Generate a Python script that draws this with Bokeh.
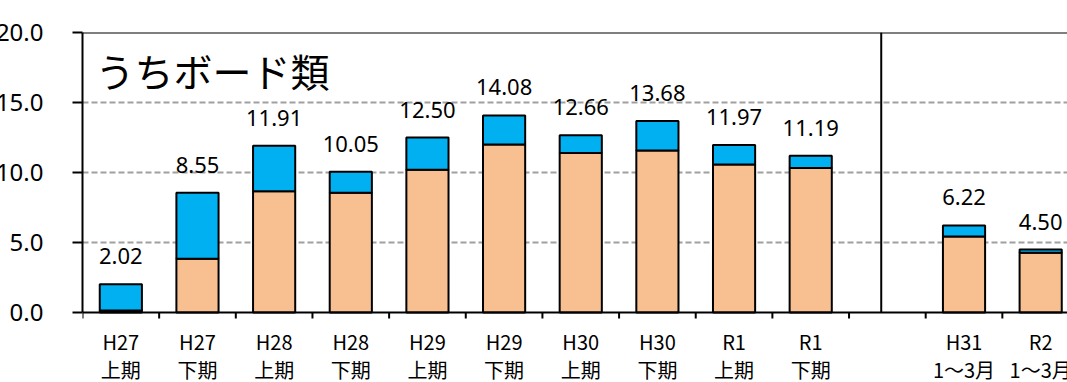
from bokeh.plotting import figure
from bokeh.models import FixedTicker, LinearAxis, Span, Label, Range1d, Grid
from bokeh.embed import file_html
from bokeh.resources import INLINE
from bokeh.core.properties import value

# ---- data ----
period_year = ["H27", "H27", "H28", "H28", "H29", "H29", "H30", "H30", "R1", "R1", "H31", "R2"]
period_half = ["上期", "下期", "上期", "下期", "上期", "下期", "上期", "下期", "上期", "下期", "1～3月", "1～3月"]
slot_index = [0, 1, 2, 3, 4, 5, 6, 7, 8, 9, 11, 12]
lower_part = [0.15, 3.84, 8.66, 8.55, 10.20, 12.00, 11.40, 11.57, 10.57, 10.33, 5.43, 4.26]
totals = [2.02, 8.55, 11.91, 10.05, 12.50, 14.08, 12.66, 13.68, 11.97, 11.19, 6.22, 4.50]
y_ticks = [0, 5, 10, 15, 20]
title_text = "うちボード類"

# ---- layout constants ----
n_slots = 13
divider_pos = 10.42
x_end = 12.85
y_min, y_max = -5, 20          # space below zero holds the category labels
px_per_unit = 14.0             # 280 px frame part for 0..20
tick_len = 6 / px_per_unit
PEACH = "#F8C090"
BLUE = "#00B0F0"

x = [s + 0.5 for s in slot_index]
boundaries = list(range(0, n_slots))

p = figure(width=1075, height=382, output_backend="svg", toolbar_location=None,
           x_range=Range1d(0, x_end), y_range=Range1d(y_min, y_max),
           x_axis_location=None, y_axis_location=None,
           min_border_left=90, min_border_right=0, min_border_top=32, min_border_bottom=0,
           background_fill_color="white", border_fill_color="white",
           margin=(0, 0, 0, -8))
p.outline_line_color = None
p.center = [r for r in p.center if not isinstance(r, Grid)]

# grid
grid = Grid(dimension=1, ticker=FixedTicker(ticks=y_ticks[1:-1]),
            grid_line_color="#A0A0A0", grid_line_width=2, grid_line_dash="6 3")
p.add_layout(grid)

# bars
p.vbar(x=x, bottom=0, top=lower_part, width=0.55, fill_color=PEACH,
       line_color="black", line_width=2)
p.vbar(x=x, bottom=lower_part, top=totals, width=0.55, fill_color=BLUE,
       line_color="black", line_width=2)

# value labels
p.text(x=x, y=totals, text=[f"{t:.2f}" for t in totals], text_align="center",
       text_baseline="middle", y_offset=-28, text_font=value("Noto Sans"),
       text_font_size="22px", text_color="black")

# top border, baseline and divider
p.add_layout(Span(location=y_max, dimension="width", line_color="black", line_width=2))
p.add_layout(Span(location=0, dimension="width", line_color="black", line_width=2))
p.segment(x0=[divider_pos], y0=[0], x1=[divider_pos], y1=[y_max], line_color="black", line_width=2)

# category ticks below the baseline
p.segment(x0=boundaries, y0=[0] * len(boundaries), x1=boundaries,
          y1=[-tick_len] * len(boundaries), line_color="black", line_width=2)

# category labels (two lines)
p.text(x=x, y=[0] * len(x), text=period_year, text_align="center", text_baseline="middle",
       y_offset=29, text_font=value("Noto Sans CJK JP"), text_font_size="20px", text_color="black")
p.text(x=x, y=[0] * len(x), text=period_half, text_align="center", text_baseline="middle",
       y_offset=57, text_font=value("Noto Sans CJK JP"), text_font_size="20px", text_color="black")

# y axis
yaxis = LinearAxis(ticker=FixedTicker(ticks=y_ticks), bounds=(0, y_max),
                   axis_line_color="black", axis_line_width=2,
                   major_tick_out=10, major_tick_in=0, major_tick_line_color="black",
                   major_tick_line_width=2, minor_tick_line_color=None,
                   major_label_overrides={v: f"{v:.1f}" for v in y_ticks},
                   major_label_text_font="Noto Sans", major_label_text_font_size="24px",
                   major_label_text_color="black", major_label_standoff=29)
p.add_layout(yaxis, "left")

# chart title inside plot
p.add_layout(Label(x=0.17, y=17.29, text=title_text,
                   text_baseline="middle", text_align="left",
                   text_font="Noto Sans CJK JP", text_font_size="39px", text_color="black"))

open("out.html", "w").write(file_html(p, INLINE))
